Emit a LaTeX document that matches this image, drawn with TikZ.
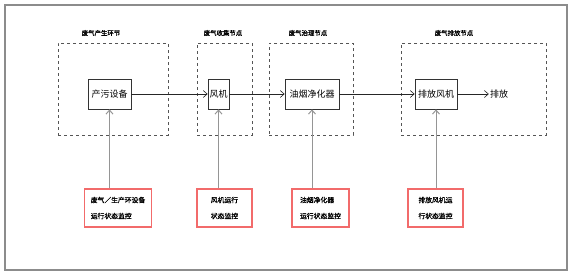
\documentclass[tikz,border=0pt]{standalone}
\usepackage{fontspec}
\setmainfont{Noto Sans CJK SC}
\newfontfamily\cjkbold[FakeBold=1.2]{Noto Sans CJK SC}
\usepackage{xcolor}
\usetikzlibrary{arrows.meta,positioning,calc}
\definecolor{FrameGray}{HTML}{8C8C8C}
\definecolor{DashGray}{HTML}{555555}
\definecolor{MonRed}{HTML}{F26B6B}
\definecolor{LineGray}{HTML}{959595}

\begin{document}
\begin{tikzpicture}[
  x=1pt, y=-1pt,
  every node/.style={inner sep=0pt},
  frame/.style={rectangle, draw=FrameGray, line width=1.2pt},
  grp/.style={rectangle, draw=DashGray, dashed, line width=0.8pt, minimum height=92pt},
  gtitle/.style={font=\cjkbold\fontsize{6.4}{7}\selectfont},
  unit/.style={rectangle, draw=black!80, line width=0.7pt, minimum height=30pt,
               font=\fontsize{9}{10}\selectfont},
  mon/.style={rectangle, draw=MonRed, line width=1.1pt, minimum height=38pt,
              align=left, inner xsep=6pt, font=\cjkbold\fontsize{6.8}{16}\selectfont},
  arr/.style={-{Straight Barb[length=4pt,width=7pt]}, line width=0.6pt, draw=black!85},
  varr/.style={-{Straight Barb[length=4pt,width=7pt]}, line width=1pt, draw=LineGray},
]
\useasboundingbox (0,0) rectangle (575,277);
\node[frame, minimum width=562pt, minimum height=265pt] (frm) at (286,137.5) {};
% dashed stages
\node[grp, minimum width=110pt] (g1) at (113,89)   {};
\node[grp, minimum width=55pt]  (g2) at (224.5,89) {};
\node[grp, minimum width=84pt]  (g3) at (311,89)   {};
\node[grp, minimum width=145pt] (g4) at (473.5,89) {};
\node[gtitle] (t1) at (101,33) {废气产生环节};
\node[gtitle] (t2) at (223,33) {废气收集节点};
\node[gtitle] (t3) at (308,33) {废气治理节点};
\node[gtitle] (t4) at (454,33) {废气排放节点};
% equipment
\node[unit, minimum width=43pt] (src) at (109.5,94) {产污设备};
\node[unit, minimum width=21pt] (fan) at (218.5,94) {风机};
\node[unit, minimum width=54pt] (pur) at (312,94)   {油烟净化器};
\node[unit, minimum width=42pt] (exf) at (436,94)   {排放风机};
\node[font=\fontsize{9}{10}\selectfont, inner sep=1pt] (out) at (499,94) {排放};
% monitors
\node[mon, minimum width=64pt] (m1) at (118,208)   {废气／生产环设备\\运行状态监控};
\node[mon, minimum width=55pt] (m2) at (224.5,208) {风机运行\\状态监控};
\node[mon, minimum width=57pt] (m3) at (320.5,208) {油烟净化器\\运行状态监控};
\node[mon, minimum width=55pt] (m4) at (435.5,208) {排放风机运\\行状态监控};
\draw[arr] (src.east) -- (fan.west);
\draw[arr] (fan.east) -- (pur.west);
\draw[arr] (pur.east) -- (exf.west);
\draw[arr] (exf.east) -- (out.west);
\draw[varr] (src.south |- m1.north) -- (src.south);
\draw[varr] (fan.south |- m2.north) -- (fan.south);
\draw[varr] (pur.south |- m3.north) -- (pur.south);
\draw[varr] (exf.south |- m4.north) -- (exf.south);
\end{tikzpicture}
\end{document}
